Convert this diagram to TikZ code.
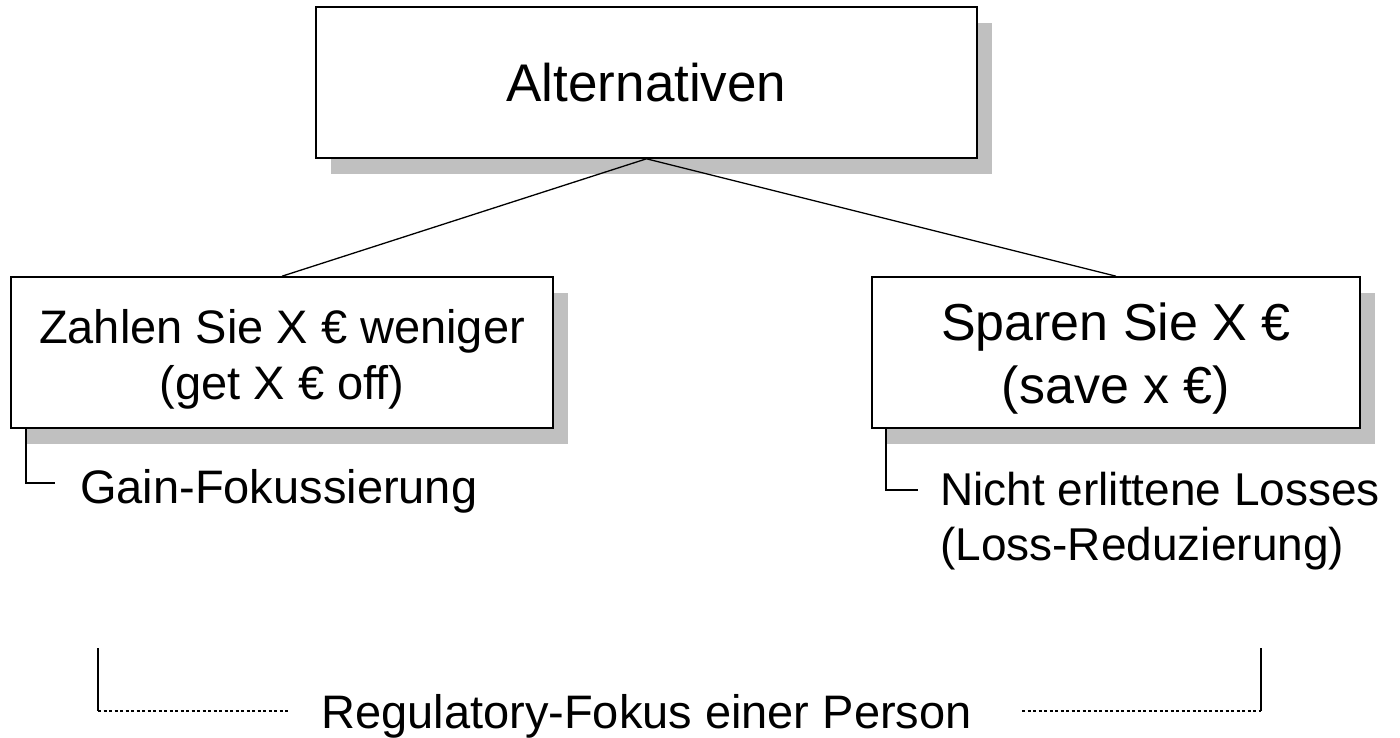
\documentclass[tikz,border=0pt]{standalone}
\usepackage{fontspec}
\setmainfont{Liberation Sans}
\usetikzlibrary{shadows,fit}
\definecolor{shade}{RGB}{192,192,192}
\begin{document}
\begin{tikzpicture}[x=1pt,y=-1pt,
  box/.style={draw=black, line width=1.6pt, fill=white, inner sep=0pt,
    drop shadow={shadow xshift=15pt, shadow yshift=-16pt, fill=shade, opacity=1}},
  txt/.style={inner sep=0pt, font=\fontsize{47}{56}\selectfont},
  smalltxt/.style={inner sep=0pt, font=\fontsize{46}{56}\selectfont},
  bigtxt/.style={inner sep=0pt, font=\fontsize{52}{62}\selectfont},
  link/.style={draw=black, line width=1.3pt},
  bracket/.style={draw=black, line width=1.1pt},
  dotted line/.style={draw=black, line width=1.1pt, dash pattern=on 3pt off 2.5pt}]
\useasboundingbox (0,0) rectangle (1400,738);
\fill[white] (0,0) rectangle (1400,738);

% boxes (drawn from their corners)
\node[box, fit={(316,7) (977,158)}] (alt) {};
\node[box, fit={(11,277) (553,428)}] (gain) {};
\node[box, fit={(872,277) (1360,428)}] (save) {};

% box texts, placed on their baselines
\node[inner sep=0pt, font=\fontsize{53}{62}\selectfont, anchor=base] (altA) at (alt.center |- 0,102) {Alternativen};
\node[txt, anchor=base] (gainA) at (gain.center |- 0,343) {Zahlen Sie X € weniger};
\node[txt, anchor=base] (gainB) at (gain.center |- 0,399) {(get X € off)};
\node[bigtxt, anchor=base] (saveA) at (save.center |- 0,340) {Sparen Sie X €};
\node[bigtxt, anchor=base] (saveB) at (save.center |- 0,403) {(save x €)};

% tree connectors
\draw[link] (alt.south) -- (gain.north);
\draw[link] (alt.south) -- (save.north);

% annotations under the boxes
\node[txt, anchor=base west] (gaintxt) at (80,503) {Gain-Fokussierung};
\node[smalltxt, anchor=base west] (losstxt) at (940,505) {Nicht erlittene Losses};
\node[smalltxt, anchor=base west] (losstxtB) at (940,560) {(Loss-Reduzierung)};
\draw[bracket] (gain.south -| 26,0) |- (55,483);
\draw[bracket] (save.south -| 886,0) |- (918,490);

% bottom bracket
\node[txt, anchor=base] (reg) at (646.5,728) {Regulatory-Fokus einer Person};
\coordinate (bl) at (98,648);
\coordinate (br) at (1261,648);
\draw[bracket] (bl) -- (98,711);
\draw[bracket] (br) -- (1261,711);
\draw[dotted line] (98,711) -- (289,711);
\draw[dotted line] (1022,711) -- (1261,711);
\end{tikzpicture}
\end{document}
